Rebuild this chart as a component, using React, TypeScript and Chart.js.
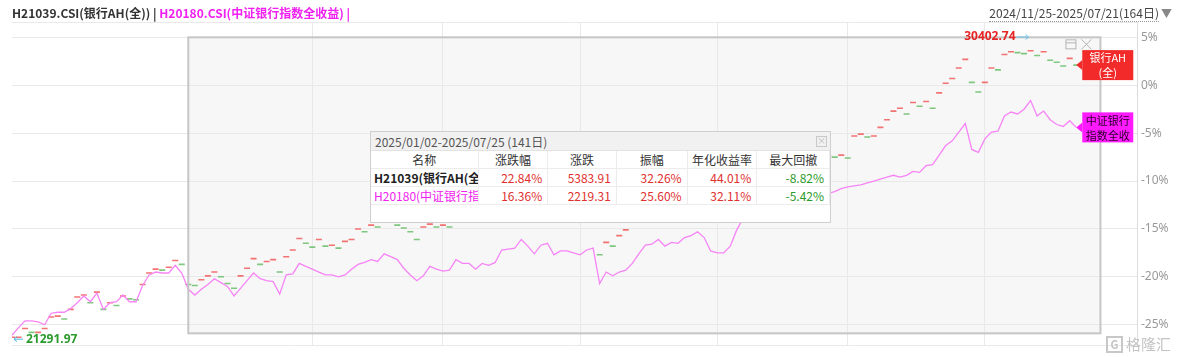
import React, { useEffect, useRef } from "react";
import { Chart, registerables } from "chart.js";
Chart.register(...registerables);

// ---- data (percent change, daily, 2024/11/25 - 2025/07/21, 164 trading days) ----
const bankAH = [
  -26.3, -26.3, -25.4, -25.8, -25.8, -25.4, -24.2, -24.1, -24.4, -23.4,
  -22.1, -21.9, -22.7, -21.6, -23.4, -22.7, -23.0, -22.0, -22.3, -22.4,
  -20.8, -19.6, -19.2, -19.3, -19.0, -18.3, -18.7, -20.8, -20.9, -20.3,
  -19.9, -19.5, -20.0, -20.7, -21.2, -19.9, -19.1, -18.1, -18.7, -18.4,
  -18.2, -19.5, -17.9, -17.2, -16.0, -16.5, -16.9, -16.1, -16.8, -16.7,
  -17.0, -16.3, -16.1, -15.0, -15.3, -14.6, -14.8, -14.1, -14.1, -14.6,
  -14.9, -15.3, -16.1, -14.8, -14.5, -14.8, -14.6, -14.8, -13.5, -13.7,
  -13.6, -13.8, -13.5, -13.7, -13.4, -12.9, -12.8, -12.7, -11.8, -12.5,
  -13.1, -12.4, -12.2, -13.3, -13.0, -13.1, -13.2, -13.4, -13.0, -12.8,
  -17.7, -16.4, -16.8, -15.7, -15.1, -14.3, -13.6, -12.9, -12.8, -12.2,
  -12.9, -12.5, -12.6, -11.9, -11.7, -11.3, -11.9, -13.3, -13.5, -13.4,
  -12.8, -11.0, -9.9, -9.1, -8.5, -8.0, -7.9, -8.2, -7.7, -7.9,
  -7.5, -7.7, -7.9, -7.6, -7.7, -7.4, -7.5, -7.3, -7.6, -5.3,
  -5.1, -5.4, -5.3, -4.4, -3.6, -2.7, -2.4, -3.0, -1.8, -2.2,
  -1.7, -2.4, -0.8, 0.2, 0.7, 1.8, 2.7, 0.3, -0.7, 0.3,
  1.8, 1.6, 3.2, 3.5, 3.4, 3.3, 3.6, 3.1, 3.5, 2.6,
  2.4, 2.0, 2.8, 2.1,
];
const bankIndex = [
  -26.1, -25.3, -24.6, -24.6, -24.7, -25.0, -23.8, -23.7, -23.7, -23.3,
  -22.7, -22.0, -22.6, -21.7, -23.4, -22.7, -22.6, -21.9, -22.6, -22.6,
  -20.9, -19.8, -19.5, -19.6, -19.6, -18.8, -19.6, -21.3, -21.9, -21.3,
  -20.8, -20.2, -20.6, -21.0, -22.0, -21.2, -20.4, -19.6, -20.2, -20.4,
  -20.5, -21.8, -19.8, -19.7, -18.6, -18.9, -19.2, -19.5, -19.8, -19.8,
  -20.0, -19.8, -19.2, -18.7, -18.5, -18.2, -18.4, -17.6, -17.9, -18.2,
  -19.1, -19.8, -20.4, -19.9, -18.9, -19.2, -19.4, -19.3, -18.2, -18.6,
  -18.6, -19.2, -18.6, -18.8, -18.5, -17.2, -17.1, -17.0, -16.1, -16.8,
  -17.6, -16.7, -16.5, -17.7, -17.3, -17.3, -17.5, -17.7, -17.2, -17.0,
  -20.7, -19.5, -19.9, -19.5, -19.3, -18.6, -17.6, -16.7, -16.6, -16.1,
  -16.8, -16.4, -16.5, -15.9, -15.7, -15.3, -15.9, -17.3, -17.5, -17.5,
  -16.8, -15.1, -13.9, -13.1, -12.4, -11.9, -11.7, -12.1, -11.6, -11.8,
  -11.4, -11.6, -11.8, -11.5, -11.7, -11.3, -11.1, -10.8, -10.6, -10.5,
  -10.4, -10.2, -10.0, -9.8, -9.6, -9.4, -9.6, -9.4, -9.0, -9.1,
  -8.4, -8.3, -7.3, -6.3, -5.8, -4.9, -4.0, -6.7, -7.0, -5.6,
  -4.9, -4.8, -3.2, -2.8, -3.0, -2.5, -1.6, -3.2, -2.7, -3.6,
  -4.1, -4.3, -3.7, -4.4,
];
const yTicks = [-25, -20, -15, -10, -5, 0, 5];
const yMin = -27.2;
const yMax = 6.6;
const xMax = 172.3;
const xGridDays = [46, 66, 87, 108, 128, 149];
const minValue = 21291.97;
const maxValue = 30402.74;
const minIndex = 0;
const maxIndex = 156;
const rangeStartDay = 27;
const rangeEndDay = 166.7;
const rangeTop = 5.0;
const rangeBottom = -25.9;

const headerAH = "H21039.CSI(银行AH(全)) | ";
const headerIdx = "H20180.CSI(中证银行指数全收益) |";
const headerRange = "2024/11/25-2025/07/21(164日)";
const labelAH = ["银行AH", "(全)"];
const labelIdx = ["中证银行", "指数全收"];

const tableTitle = "2025/01/02-2025/07/25 (141日)";
const tableCols = ["名称", "涨跌幅", "涨跌", "振幅", "年化收益率", "最大回撤"];
const seriesNames = ["H21039(银行AH(全))", "H20180(中证银行指数全收益)"];
const chgPct = ["22.84%", "16.36%"];
const chgAbs = ["5383.91", "2219.31"];
const amplitude = ["32.26%", "25.60%"];
const annualRet = ["44.01%", "32.11%"];
const maxDrawdown = ["-8.82%", "-5.42%"];

const RED = "rgba(240,80,80,0.8)";
const GREEN = "rgba(96,186,96,0.8)";
const PINK = "#f684f6";
const FONT = '"Noto Sans CJK SC", "Noto Sans", sans-serif';

const overlayPlugin = {
  id: "overlay",
  beforeDraw(chart: any) {
    const { ctx, scales } = chart;
    const x = scales.x, y = scales.y;
    const l = x.getPixelForValue(rangeStartDay);
    const r = x.getPixelForValue(rangeEndDay);
    const t = y.getPixelForValue(rangeTop);
    const b = y.getPixelForValue(rangeBottom);
    ctx.save();
    ctx.fillStyle = "#f7f7f7";
    ctx.fillRect(l, t, r - l, b - t);
    ctx.restore();
  },
  afterDatasetsDraw(chart: any) {
    const { ctx, scales } = chart;
    const x = scales.x, y = scales.y;
    const l = x.getPixelForValue(rangeStartDay);
    const r = x.getPixelForValue(rangeEndDay);
    const t = y.getPixelForValue(rangeTop);
    const b = y.getPixelForValue(rangeBottom);
    ctx.save();
    ctx.strokeStyle = "#c6c6c6";
    ctx.lineWidth = 2;
    ctx.strokeRect(l, t, r - l, b - t);
    // window icons
    ctx.strokeStyle = "#b4b4b4";
    ctx.lineWidth = 1;
    ctx.strokeRect(r - 34.5, t + 2.5, 10, 9);
    ctx.beginPath();
    ctx.moveTo(r - 34.5, t + 5.5);
    ctx.lineTo(r - 24.5, t + 5.5);
    ctx.moveTo(r - 19, t + 2);
    ctx.lineTo(r - 9, t + 12);
    ctx.moveTo(r - 9, t + 2);
    ctx.lineTo(r - 19, t + 12);
    ctx.stroke();

    // min label
    const mx = x.getPixelForValue(minIndex);
    const my = y.getPixelForValue(bankAH[minIndex]) + 2;
    ctx.strokeStyle = "#4fb8e0";
    ctx.beginPath();
    ctx.moveTo(mx + 2, my);
    ctx.lineTo(mx + 11, my);
    ctx.moveTo(mx + 2, my);
    ctx.lineTo(mx + 5, my - 2.5);
    ctx.moveTo(mx + 2, my);
    ctx.lineTo(mx + 5, my + 2.5);
    ctx.stroke();
    ctx.font = 'bold 12px "Noto Sans", sans-serif';
    ctx.fillStyle = "#2c9a2c";
    ctx.textAlign = "left";
    ctx.textBaseline = "middle";
    ctx.fillText(minValue.toFixed(2), mx + 14, my);

    // max label (high of the period)
    const highPct = ((1 + bankAH[minIndex] / 100) * (maxValue / minValue) - 1) * 100;
    const hx = x.getPixelForValue(maxIndex);
    const hy = y.getPixelForValue(highPct) + 2;
    ctx.strokeStyle = "#6cc4e8";
    ctx.beginPath();
    ctx.moveTo(hx - 14, hy);
    ctx.lineTo(hx - 2, hy);
    ctx.moveTo(hx - 2, hy);
    ctx.lineTo(hx - 5, hy - 2.5);
    ctx.moveTo(hx - 2, hy);
    ctx.lineTo(hx - 5, hy + 2.5);
    ctx.stroke();
    ctx.fillStyle = "#e52424";
    ctx.textAlign = "right";
    ctx.fillText(maxValue.toFixed(2), hx - 15, hy);

    // end tags
    const drawTag = (val: number, color: string, textColor: string, lines: string[]) => {
      const last = bankAH.length - 1;
      const px = x.getPixelForValue(last);
      const py = y.getPixelForValue(val);
      const bx = px + 6, bw = 51, bh = 30;
      ctx.fillStyle = color;
      ctx.beginPath();
      ctx.moveTo(px, py);
      ctx.lineTo(bx, py - 5);
      ctx.lineTo(bx, py + 5);
      ctx.closePath();
      ctx.fill();
      ctx.fillRect(bx, py - bh / 2, bw, bh);
      ctx.fillStyle = textColor;
      ctx.font = "11px " + FONT;
      ctx.textAlign = "center";
      ctx.textBaseline = "middle";
      ctx.fillText(lines[0], bx + bw / 2, py - 7);
      ctx.fillText(lines[1], bx + bw / 2, py + 8);
    };
    drawTag(bankAH[bankAH.length - 1], "#f22a2a", "#ffffff", labelAH);
    drawTag(bankIndex[bankIndex.length - 1], "#ff1aff", "#2a002a", labelIdx);
    ctx.restore();
  },
};

function Table() {
  const widths = [108, 70, 69, 71, 70, 73];
  const rows = [0, 1].map((r) => [
    seriesNames[r],
    chgPct[r],
    chgAbs[r],
    amplitude[r],
    annualRet[r],
    maxDrawdown[r],
  ]);
  const cellBase: React.CSSProperties = {
    height: 18,
    lineHeight: "18px",
    boxSizing: "border-box",
    borderRight: "1px solid #ececec",
    borderBottom: "1px solid #ececec",
    overflow: "hidden",
    whiteSpace: "nowrap",
    fontSize: 12,
  };
  return (
    <div
      style={{
        position: "absolute",
        left: 370,
        top: 131,
        width: 461,
        height: 92,
        background: "#ffffff",
        border: "1px solid #cfcfcf",
        boxSizing: "border-box",
        fontFamily: FONT,
      }}
    >
      <div
        style={{
          height: 19,
          lineHeight: "19px",
          background: "#f1f1f1",
          color: "#555",
          fontSize: 12,
          paddingLeft: 4,
          borderBottom: "1px solid #e2e2e2",
          boxSizing: "border-box",
          position: "relative",
        }}
      >
        {tableTitle}
        <div
          style={{
            position: "absolute",
            right: 3,
            top: 4,
            width: 9,
            height: 9,
            border: "1px solid #c8c8c8",
            color: "#bbb",
            fontSize: 9,
            lineHeight: "8px",
            textAlign: "center",
          }}
        >
          ×
        </div>
      </div>
      <div style={{ display: "flex" }}>
        {tableCols.map((c, i) => (
          <div key={c} style={{ ...cellBase, width: widths[i], textAlign: "center", color: "#333" }}>
            {c}
          </div>
        ))}
      </div>
      {rows.map((row, r) => (
        <div key={r} style={{ display: "flex" }}>
          {row.map((v, i) => (
            <div
              key={i}
              style={{
                ...cellBase,
                width: widths[i],
                textAlign: i === 0 ? "left" : "right",
                paddingLeft: i === 0 ? 3 : 0,
                paddingRight: i === 0 ? 0 : 5,
                fontWeight: i === 0 && r === 0 ? 600 : 400,
                color:
                  i === 0
                    ? r === 0
                      ? "#222"
                      : "#f020f0"
                    : i === 5
                    ? "#2e9a2e"
                    : "#e03030",
              }}
            >
              {v}
            </div>
          ))}
        </div>
      ))}
    </div>
  );
}

export default function App() {
  const ref = useRef<HTMLCanvasElement>(null);
  useEffect(() => {
    if (!ref.current) return;
    const dashColors = bankAH.map((v, i) => (i === 0 || v >= bankAH[i - 1] ? RED : GREEN));
    const chart = new Chart(ref.current, {
      type: "line",
      data: {
        datasets: [
          {
            label: "H20180.CSI",
            data: bankIndex.map((v, i) => ({ x: i, y: v })),
            borderColor: PINK,
            borderWidth: 1.3,
            pointRadius: 0,
            tension: 0,
          },
          {
            label: "H21039.CSI",
            data: bankAH.map((v, i) => ({ x: i, y: v })),
            showLine: false,
            pointStyle: "line",
            pointRadius: 3,
            pointBorderWidth: 1.6,
            pointBorderColor: dashColors,
            pointBackgroundColor: dashColors,
          },
        ],
      },
      options: {
        responsive: false,
        animation: false,
        devicePixelRatio: 1,
        layout: { padding: { left: 12, top: 22, right: 0, bottom: 9 } },
        plugins: { legend: { display: false }, tooltip: { enabled: false } },
        scales: {
          x: {
            type: "linear",
            min: 0,
            max: xMax,
            grid: { color: "#e9e9e9", drawTicks: false, lineWidth: 1 },
            border: { display: false },
            ticks: { display: false },
            afterBuildTicks: (s: any) => {
              s.ticks = xGridDays.map((v) => ({ value: v }));
            },
            afterFit: (s: any) => {
              s.height = 0;
            },
          },
          y: {
            position: "right",
            min: yMin,
            max: yMax,
            grid: { color: "#e9e9e9", drawTicks: false },
            border: { display: true, color: "#dcdcdc" },
            afterBuildTicks: (s: any) => {
              s.ticks = [yMin, ...yTicks, yMax].map((v) => ({ value: v }));
            },
            ticks: {
              padding: 4,
              color: "#999",
              font: { size: 12, family: '"Noto Sans", sans-serif' },
              callback: (v: any) => (yTicks.includes(v) ? v + "%" : ""),
            },
            afterFit: (s: any) => {
              s.width = 42;
            },
          },
        },
      },
      plugins: [overlayPlugin],
    } as any);
    return () => chart.destroy();
  }, []);

  return (
    <div style={{ position: "absolute", left: 0, top: 0, width: 1179, height: 357, background: "#fff", fontFamily: FONT }}>
      <canvas ref={ref} width={1179} height={357} style={{ position: "absolute", left: 0, top: 0, width: 1179, height: 357 }} />
      <div style={{ position: "absolute", left: 12, top: 5, fontSize: 12, lineHeight: "16px", fontWeight: 600, whiteSpace: "nowrap" }}>
        <span style={{ color: "#333" }}>{headerAH}</span>
        <span style={{ color: "#f020f0" }}>{headerIdx}</span>
      </div>
      <div style={{ position: "absolute", right: 7, top: 5, fontSize: 12, lineHeight: "16px", color: "#444", whiteSpace: "nowrap" }}>
        <span style={{ borderBottom: "1px dotted #999" }}>{headerRange}</span>
        <span style={{ color: "#888", marginLeft: 2, fontSize: 11 }}>▼</span>
      </div>
      <Table />
      <div style={{ position: "absolute", left: 1106, top: 335, display: "flex", alignItems: "center", color: "#c4c4c4", fontSize: 15, lineHeight: "18px" }}>
        <span style={{ border: "2px solid #c8c8c8", width: 13, height: 13, fontSize: 11, lineHeight: "13px", textAlign: "center", marginRight: 3, fontWeight: 700 }}>G</span>
        <span>格隆汇</span>
      </div>
    </div>
  );
}
